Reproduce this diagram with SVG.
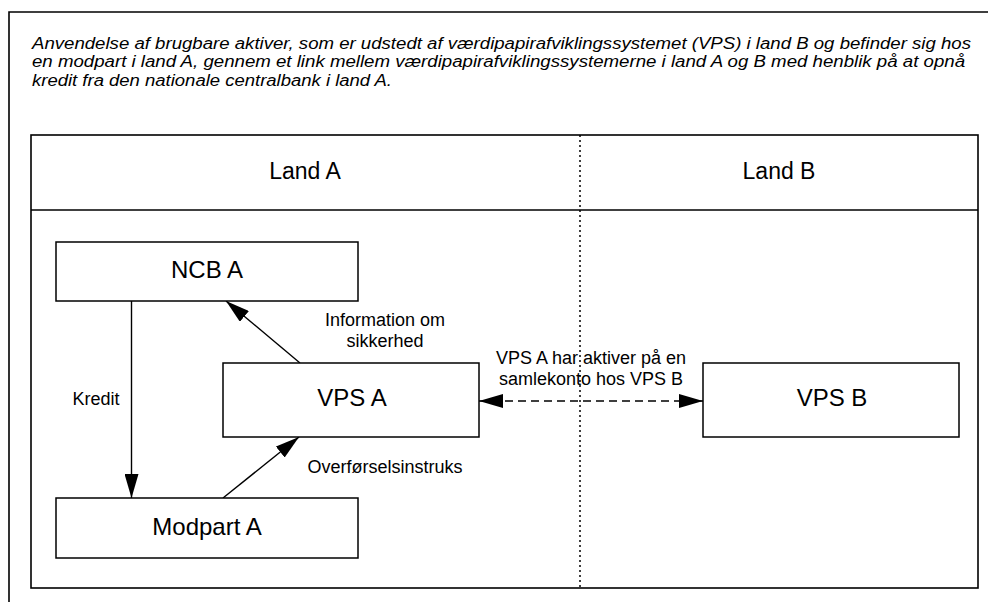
<svg xmlns="http://www.w3.org/2000/svg" width="988" height="602" viewBox="0 0 988 602">
<style>
  .frame { fill: none; stroke: #000; stroke-width: 1.6; }
  .box { fill: #fff; stroke: #000; stroke-width: 1.5; }
  .conn { fill: none; stroke: #000; stroke-width: 1.4; }
  .title { font-family: "Liberation Sans", Arial, sans-serif; font-style: italic; font-size: 16px; fill: #000; }
  .land { font-family: "Liberation Sans", Arial, sans-serif; font-size: 23px; fill: #000; text-anchor: middle; }
  .node { font-family: "Liberation Sans", Arial, sans-serif; font-size: 24px; fill: #000; text-anchor: middle; }
  .lbl { font-family: "Liberation Sans", Arial, sans-serif; font-size: 18px; fill: #000; text-anchor: middle; }
</style>
<defs>
  <marker id="arrow" markerUnits="userSpaceOnUse" markerWidth="24" markerHeight="14" refX="24" refY="7" orient="auto-start-reverse">
    <path d="M0,0 L24,7 L0,14 z" fill="#000"/>
  </marker>
</defs>
<rect width="988" height="602" fill="#fff"/>
<g id="outer-frame">
  <path class="frame" d="M9,602 L9,12 L990,12"/>
  <text class="title" x="32" y="48.5" textLength="939" lengthAdjust="spacingAndGlyphs">Anvendelse af brugbare aktiver, som er udstedt af værdipapirafviklingssystemet (VPS) i land B og befinder sig hos</text>
  <text class="title" x="32" y="67" textLength="933" lengthAdjust="spacingAndGlyphs">en modpart i land A, gennem et link mellem værdipapirafviklingssystemerne i land A og B med henblik på at opnå</text>
  <text class="title" x="32" y="85.5" textLength="360" lengthAdjust="spacingAndGlyphs">kredit fra den nationale centralbank i land A.</text>
</g>
<g id="panel">
  <rect class="frame" x="31" y="135" width="947" height="453"/>
  <line class="frame" x1="31" y1="210" x2="978" y2="210"/>
  <line x1="580" y1="135" x2="580" y2="588" stroke="#000" stroke-width="1.5" stroke-dasharray="2,3"/>
  <text class="land" x="305" y="179">Land A</text>
  <text class="land" x="779" y="179">Land B</text>
</g>
<g id="connectors">
  <line class="conn" x1="131.5" y1="301" x2="131.5" y2="498" marker-end="url(#arrow)"/>
  <line class="conn" x1="300" y1="363" x2="226" y2="301" marker-end="url(#arrow)"/>
  <line class="conn" x1="223" y1="498" x2="299" y2="437" marker-end="url(#arrow)"/>
  <line class="conn" x1="479" y1="401" x2="703" y2="401" stroke-dasharray="8,5" marker-start="url(#arrow)" marker-end="url(#arrow)"/>
  <text class="lbl" x="96" y="405">Kredit</text>
  <text class="lbl" x="385" y="326">Information om</text>
  <text class="lbl" x="385" y="347">sikkerhed</text>
  <text class="lbl" x="385" y="473">Overførselsinstruks</text>
  <text class="lbl" x="591" y="364">VPS A har aktiver på en</text>
  <text class="lbl" x="591" y="385">samlekonto hos VPS B</text>
</g>
<g id="ncb-a">
  <rect class="box" x="56" y="242" width="302" height="59"/>
  <text class="node" x="207" y="278">NCB A</text>
</g>
<g id="vps-a">
  <rect class="box" x="223" y="363" width="256" height="74"/>
  <text class="node" x="352" y="406">VPS A</text>
</g>
<g id="vps-b">
  <rect class="box" x="703" y="363" width="256" height="74"/>
  <text class="node" x="832" y="406">VPS B</text>
</g>
<g id="modpart-a">
  <rect class="box" x="56" y="498" width="302" height="60"/>
  <text class="node" x="207" y="535">Modpart A</text>
</g>
</svg>
